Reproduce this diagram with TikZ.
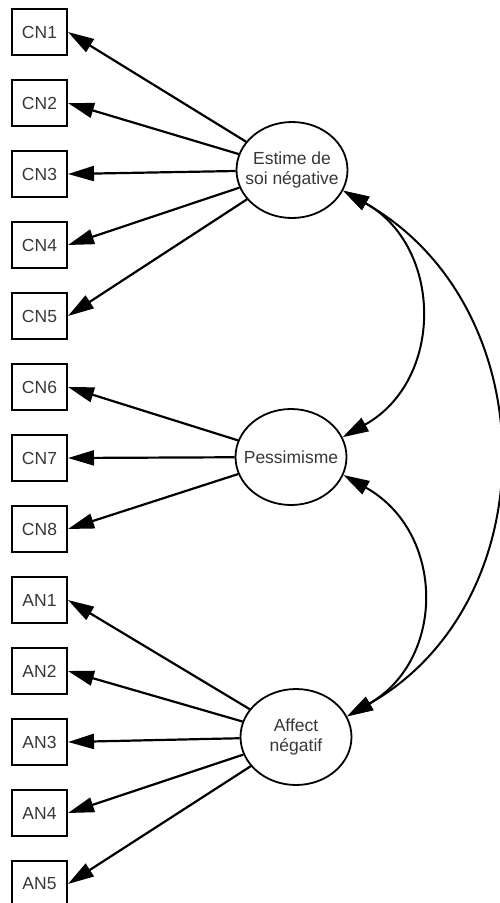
\documentclass[tikz,border=0pt]{standalone}
\usepackage{fontspec}
\setmainfont{Liberation Sans}
\usetikzlibrary{arrows.meta,shapes.geometric}
\definecolor{txt}{RGB}{55,55,55}
\begin{document}
\begin{tikzpicture}[x=1pt,y=-1pt,
  obs/.style={draw,line width=2pt,minimum width=55pt,minimum height=46pt,inner sep=0pt,font=\fontsize{17.5}{20}\selectfont,text=txt},
  lat/.style={draw,ellipse,line width=1.8pt,minimum width=111pt,minimum height=96pt,inner xsep=-15pt,inner ysep=0pt,align=center,font=\fontsize{17.5}{20}\selectfont,text=txt},
  load/.style={line width=2.2pt,-{Triangle[length=26pt,width=15pt]}},
  cov/.style={line width=2pt,{Triangle[length=26pt,width=15pt]}-{Triangle[length=26pt,width=15pt]}}
]
\useasboundingbox (0,0) rectangle (499,903);
\foreach \n/\y in {CN1/32,CN2/103,CN3/174,CN4/245,CN5/316,CN6/387,CN7/458,CN8/529,AN1/600,AN2/671,AN3/742,AN4/813,AN5/884}
  \node[obs] (\n) at (39.5,\y) {\n};
\node[lat] (est) at (292,170) {Estime de\\soi négative};
\node[lat] (pes) at (291,457) {Pessimisme};
\node[lat] (aff) at (296,737) {Affect\\négatif};
\foreach \n in {CN1,CN2,CN3,CN4,CN5}
  \draw[load] (est) -- (\n.east);
\foreach \n in {CN6,CN7,CN8}
  \draw[load] (pes) -- (\n.east);
\foreach \n in {AN1,AN2,AN3,AN4,AN5}
  \draw[load] (aff) -- (\n.east);
\draw[cov] (est.-22) .. controls +(100,56) and +(102,-57) .. (pes.21);
\draw[cov] (pes.-19) .. controls +(102,57) and +(99,-57) .. (aff.22);
\draw[cov] (est.-22) .. controls +(203,115) and +(202,-115) .. (aff.22);
\end{tikzpicture}
\end{document}
